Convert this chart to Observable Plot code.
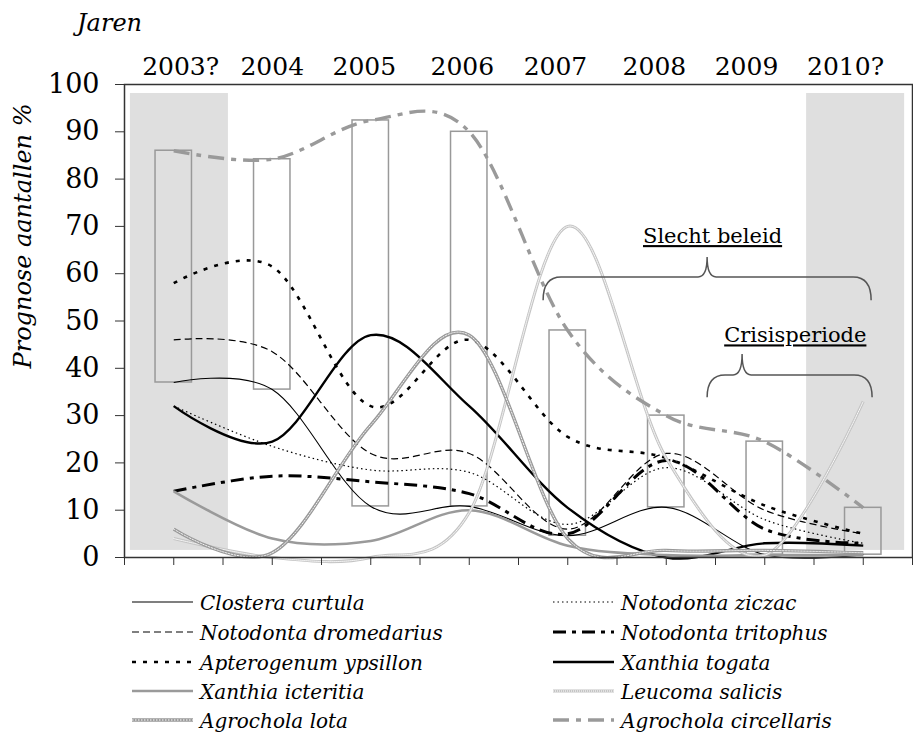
<!DOCTYPE html>
<html><head><meta charset="utf-8">
<script src="https://cdn.jsdelivr.net/npm/d3@7"></script>
<script src="https://cdn.jsdelivr.net/npm/@observablehq/plot@0.6"></script>
<style>
body{margin:0;background:#fff;}
#wrap{position:relative;width:913px;height:736px;overflow:hidden;}
#chart{position:absolute;left:0;top:0;}
#overlay,#legend{position:absolute;left:0;top:0;}
</style></head>
<body><div id="wrap"><div id="chart"></div>
<svg id="overlay" width="913" height="600"></svg>
<svg id="legend" width="913" height="736" style="pointer-events:none"></svg>
</div>
<script>
// ---------- data ----------
const years = ["2003?","2004","2005","2006","2007","2008","2009","2010?"];
const yearIndex = [1,3,5,7,9,11,13,15];            // category slot of each year
const yearLabelPos = [1.14,3.0,4.87,6.86,8.75,10.76,12.63,14.64];
const closteraCurtula      = [37,35.5,10.8,10.8,4.6,10.6,0.6,0.6];
const notodontaZiczac      = [32,23.5,18.5,18,7,19,8,3];
const notodontaDromedarius = [46,43.5,22,22,6,22,10,5];
const notodontaTritophus   = [14,17.2,16,13.5,5,20.5,6,3];
const apterogenumYpsillon  = [58,61.5,32,46,25.5,21,11,5];
const xanthiaTogata        = [32,24.5,47,32,10.5,0,3,2.5];
const xanthiaIcteritia     = [14,4,3.5,10,2.5,0.5,0.5,0.5];
const leucomaSalicis       = [4,0,0,9.5,70,21,0.5,33];
const agrocholaLota        = [6,1,28,47,4,1.5,1.5,1];
const agrocholaCircellaris = [86,84.2,92.4,90,48,30,24.5,10.5];
const shadedPeriods = [{from:0.12,to:2.11},{from:13.85,to:15.84}];
const shadeRange = [1.5,98.1];
const braces = [
  {label:"Slecht beleid", from:8.51, to:15.17, tip:11.84, level:59.2, end:54.3, top:63.4, tx:11.94, ty:67.9},
  {label:"Crisisperiode", from:11.84, to:15.19, tip:12.55, level:38.5, end:33.8, top:42.9, tx:13.62, ty:46.9}
];
const yTicks = d3.range(0,101,10);
const xTicks = d3.range(0,17);

const seriesNames = ["Clostera curtula","Notodonta ziczac","Notodonta dromedarius","Notodonta tritophus",
  "Apterogenum ypsillon","Xanthia togata","Xanthia icteritia","Leucoma salicis","Agrochola lota","Agrochola circellaris"];
const seriesValues = [closteraCurtula,notodontaZiczac,notodontaDromedarius,notodontaTritophus,
  apterogenumYpsillon,xanthiaTogata,xanthiaIcteritia,leucomaSalicis,agrocholaLota,agrocholaCircellaris];

// ---------- styles ----------
const SERIF = "'DejaVu Serif', serif";
const styles = {
  "Clostera curtula":      {stroke:"#000", w:1.1},
  "Notodonta ziczac":      {stroke:"#000", w:1.2, dash:"1.5,3"},
  "Notodonta dromedarius": {stroke:"#000", w:1.2, dash:"7,4"},
  "Notodonta tritophus":   {stroke:"#000", w:3, dash:"13,6,4,6"},
  "Apterogenum ypsillon":  {stroke:"#000", w:2.6, dash:"4,7"},
  "Xanthia togata":        {stroke:"#000", w:2.4},
  "Xanthia icteritia":     {stroke:"#9a9a9a", w:2.6},
  "Leucoma salicis":       {stroke:"#c4c4c4", w:3, pattern:"1,1"},
  "Agrochola lota":        {stroke:"#999", w:3.4, pattern:"1.5,1.5"},
  "Agrochola circellaris": {stroke:"#9a9a9a", w:3.4, dash:"16,7,5,7"}
};

const rows = seriesNames.flatMap((name, s) => seriesValues[s].map((v, i) => ({name, x: yearIndex[i], y: v})));
const boxes = yearIndex.map((x, i) => ({x, low: closteraCurtula[i], high: agrocholaCircellaris[i]}));
const boxHalf = 0.37;

const lineMarks = seriesNames.flatMap(name => {
  const st = styles[name];
  const data = rows.filter(r => r.name === name);
  const m = [Plot.line(data, {x:"x", y:"y", curve:"cardinal", stroke: st.stroke, strokeWidth: st.w,
      strokeDasharray: st.dash, strokeLinecap: "butt"})];
  if (st.pattern) m.push(Plot.line(data, {x:"x", y:"y", curve:"cardinal", stroke:"#fff", strokeWidth:1,
      strokeDasharray: st.pattern, strokeOpacity:0.9}));
  return m;
});

function braceRender(index, scales) {
  const {x, y} = scales;
  const g = d3.create("svg:g").attr("fill","none").attr("stroke","#555").attr("stroke-width",1.5);
  for (const b of braces) {
    const X0 = x(b.from), X1 = x(b.to), XT = x(b.tip), YL = y(b.level), YE = y(b.end), YT = y(b.top);
    const r = 18, rt = 9;
    const p = `M${X0},${YE} Q${X0},${YL} ${X0+r},${YL} L${XT-rt},${YL} Q${XT},${YL} ${XT},${YT} Q${XT},${YL} ${XT+rt},${YL} L${X1-r},${YL} Q${X1},${YL} ${X1},${YE}`;
    g.append("path").attr("d", p);
  }
  return g.node();
}

const H = 590;
const chart = Plot.plot({
  width: 913, height: H,
  marginLeft: 124, marginRight: 1, marginTop: 84, marginBottom: H - 557,
  style: {fontFamily: SERIF, fontSize: "26px", color: "#000", background: "transparent"},
  x: {domain: [0, 16]},
  y: {domain: [0, 100]},
  marks: [
    Plot.rect(shadedPeriods, {x1:"from", x2:"to", y1: () => shadeRange[0], y2: () => shadeRange[1], fill:"#dfdfdf"}),
    Plot.rect(boxes, {x1: d => d.x - boxHalf, x2: d => d.x + boxHalf, y1:"low", y2:"high", fill:"none", stroke:"#999", strokeWidth:1.5}),
    ...lineMarks,
    braceRender,
    Plot.text(braces, {x:"tx", y:"ty", text:"label", fontSize:21, fill:"#111"}),
    Plot.axisY({ticks: yTicks, tickSize: 9, tickPadding: 16, fontSize: 27, label: null, stroke:"#333"}),
    Plot.axisX({anchor:"bottom", ticks: xTicks, tickSize: 8, tickFormat: () => "", label: null, stroke:"#333"}),
    Plot.axisX({anchor:"top", ticks: yearLabelPos, tickSize: 0, tickPadding: 10, fontSize: 25,
      tickFormat: d => years[yearLabelPos.indexOf(d)], label: null}),
    Plot.frame({stroke:"#333", strokeWidth:1.5})
  ]
});
document.getElementById("chart").appendChild(chart);
d3.select(chart).selectAll("text").style("font-family", SERIF).style("fill", "#000");
d3.select(chart).selectAll("text")
  .filter(function() { return braces.some(b => b.label === this.textContent); })
  .style("text-decoration", "underline");

// ---------- titles ----------
const ov = d3.select("#overlay");
ov.append("text").style("font-family", SERIF).attr("x",77).attr("y",31)
  .style("font-style","italic").attr("font-size",24).text("Jaren");
ov.append("text").style("font-family", SERIF).attr("transform","translate(31,236) rotate(-90)").attr("text-anchor","middle")
  .style("font-style","italic").attr("font-size",24)
  .text("Prognose aantallen %");

// ---------- legend ----------
const lg = d3.select("#legend");
const colX = [132, 553];
const rowBase = [610, 640, 670, 699, 728];
seriesNames.forEach((name, i) => {
  const st = styles[name];
  const cx = colX[i % 2], by = rowBase[Math.floor(i / 2)];
  const ly = by - 8;
  lg.append("line").attr("x1", cx).attr("x2", cx + 61).attr("y1", ly).attr("y2", ly)
    .attr("stroke", st.stroke).attr("stroke-width", st.w).attr("stroke-dasharray", st.dash || null);
  if (st.pattern) lg.append("line").attr("x1", cx).attr("x2", cx + 61).attr("y1", ly).attr("y2", ly)
    .attr("stroke", "#fff").attr("stroke-width", 1).attr("stroke-dasharray", st.pattern);
  lg.append("text").attr("x", cx + 68).attr("y", by).style("font-family", SERIF)
    .style("font-style", "italic").attr("font-size", 20).text(name);
});
</script>
</body></html>
